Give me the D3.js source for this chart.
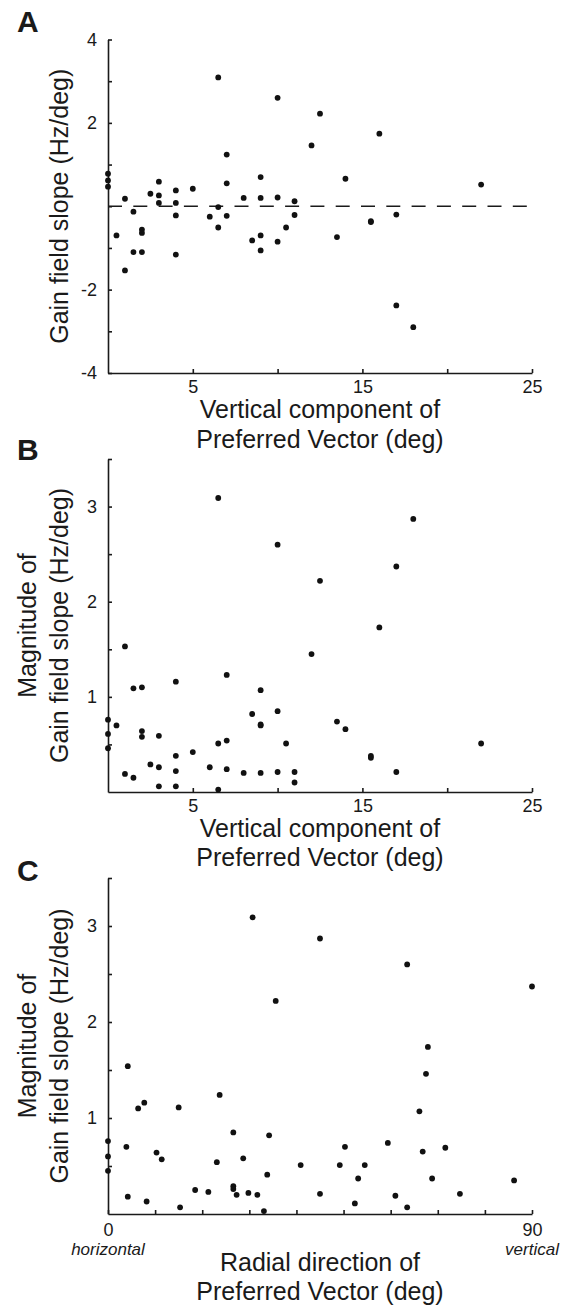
<!DOCTYPE html>
<html>
<head>
<meta charset="utf-8">
<script src="https://cdn.jsdelivr.net/npm/d3@7"></script>
<style>
  body { margin: 0; background: #fff; }
  svg text { font-family: "Liberation Sans", Arial, Helvetica, sans-serif; fill: #1a1a1a; }
  .axis path, .axis line { stroke: #1a1a1a; stroke-width: 1.6; }
  .axis text { font-size: 18px; }
  .title { font-size: 25px; }
  .plabel { font-size: 30px; font-weight: bold; }
  .note { font-size: 17px; font-style: italic; }
</style>
</head>
<body>
<svg id="fig" width="569" height="1305"></svg>
<script>
// Panel A: vertical component (deg) vs gain field slope (Hz/deg)
const aX = [6.5, 10, 12.5, 16, 12, 7, 0, 0, 0, 1, 1.5, 0.5, 2, 2, 1.5, 2, 1, 2.5, 3, 3, 3, 4, 4, 4, 4,
            5, 6, 6.5, 6.5, 7, 7, 8, 8.5, 9, 9, 9, 9, 10, 10, 10.5, 11, 11, 13.5, 14, 15.5, 15.5, 17, 17, 22, 18];
const aY = [3.09, 2.6, 2.22, 1.74, 1.46, 1.24, 0.78, 0.62, 0.47, 0.18, -0.13, -0.70, -0.56, -0.64, -1.10, -1.10,
            -1.54, 0.30, 0.59, 0.26, 0.08, 0.38, 0.08, -0.22, -1.16, 0.42, -0.25, -0.02, -0.51, 0.55, -0.23, 0.20,
            -0.82, 0.70, 0.20, -0.70, -1.06, 0.21, -0.85, -0.51, 0.12, -0.21, -0.74, 0.66, -0.36, -0.38, -0.20,
            -2.38, 0.52, -2.90];

// Panel B: vertical component (deg) vs magnitude of slope
const bX = [6.5, 10, 12.5, 18, 17, 16, 1, 12, 7, 4, 1.5, 2, 9, 10, 8.5, 0, 0.5, 9, 9, 13.5, 14, 0, 2, 2, 3,
            0, 6.5, 7, 10.5, 22, 15.5, 15.5, 5, 4, 2.5, 3, 4, 6, 7, 8, 9, 10, 11, 17, 1, 1.5, 11, 3, 4, 6.5];
const bY = [3.09, 2.6, 2.22, 2.87, 2.37, 1.73, 1.53, 1.45, 1.23, 1.16, 1.09, 1.10, 1.07, 0.85, 0.82, 0.76, 0.70,
            0.70, 0.71, 0.74, 0.66, 0.61, 0.64, 0.58, 0.59, 0.46, 0.51, 0.54, 0.51, 0.51, 0.38, 0.36, 0.42, 0.38,
            0.29, 0.26, 0.22, 0.26, 0.24, 0.20, 0.20, 0.21, 0.21, 0.21, 0.19, 0.15, 0.10, 0.06, 0.06, 0.025];

// Panel C: radial direction (deg) vs magnitude of slope
const cX = [30.7, 45.0, 63.5, 90, 35.6, 67.9, 67.5, 4.2, 23.7, 6.4, 7.7, 15, 66.1, 26.6, 34.2, 0, 3.9, 59.4,
            50.3, 71.6, 66.8, 10.3, 0, 11.4, 28.7, 23.1, 40.9, 49.2, 54.5, 0, 33.8, 53.1, 68.8, 86.2, 26.6, 26.6,
            27.3, 18.5, 21.3, 29.8, 31.7, 45.0, 61.0, 74.7, 4.2, 8.2, 52.4, 15.3, 63.5, 33.1];
const cY = [3.09, 2.87, 2.6, 2.37, 2.22, 1.74, 1.46, 1.54, 1.24, 1.10, 1.16, 1.11, 1.07, 0.85, 0.82, 0.76, 0.70,
            0.74, 0.70, 0.69, 0.65, 0.64, 0.60, 0.57, 0.58, 0.54, 0.51, 0.51, 0.51, 0.45, 0.41, 0.37, 0.37, 0.35,
            0.29, 0.26, 0.20, 0.25, 0.23, 0.22, 0.20, 0.21, 0.19, 0.21, 0.18, 0.13, 0.11, 0.07, 0.07, 0.03];

// Ticks and labels
const vertTicks = [5, 10, 15, 20, 25];
const vertLabels = [5, 15, 25];
const slopeTicks = [-4, -3, -2, -1, 0, 1, 2, 3, 4];
const slopeLabels = [4, 2, -2, -4];
const magTicks = [0.5, 1, 1.5, 2, 2.5, 3, 3.5];
const magLabels = [1, 2, 3];
const radialTicks = [0, 10, 20, 30, 40, 50, 60, 70, 80, 90];
const radialLabels = [0, 90];

const svg = d3.select('#fig');
const left = 108, right = 532;

function drawPanel(p) {
  const x = d3.scaleLinear().domain(p.xDomain).range([left, right]);
  const y = d3.scaleLinear().domain(p.yDomain).range(p.yRange);
  const g = svg.append('g');

  const xAxis = d3.axisBottom(x)
      .tickValues(p.xTicks)
      .tickSize(-4)
      .tickSizeOuter(0)
      .tickPadding(p.xPad)
      .tickFormat(d => p.xLabels.includes(d) ? d : '');
  const yAxis = d3.axisLeft(y)
      .tickValues(p.yTicks)
      .tickSize(-4)
      .tickSizeOuter(0)
      .tickPadding(11)
      .tickFormat(d => p.yLabels.includes(d) ? d : '');

  g.append('g')
      .attr('class', 'axis')
      .attr('transform', `translate(0,${p.yRange[0]})`)
      .call(xAxis)
      .call(a => a.attr('font-family', null).attr('font-size', null));
  g.append('g')
      .attr('class', 'axis')
      .attr('transform', `translate(${left},0)`)
      .call(yAxis)
      .call(a => a.attr('font-family', null).attr('font-size', null));

  // dashed zero line (panel A only)
  if (p.zeroLine) {
    g.append('line')
        .attr('x1', x(p.xDomain[0])).attr('x2', x(p.xDomain[1]))
        .attr('y1', y(0)).attr('y2', y(0))
        .attr('stroke', '#1a1a1a')
        .attr('stroke-width', 1.7)
        .attr('stroke-dasharray', '14,11.3');
  }

  g.selectAll('.dot')
      .data(d3.range(p.xs.length))
      .join('circle')
      .attr('class', 'dot')
      .attr('cx', i => x(p.xs[i]))
      .attr('cy', i => y(p.ys[i]))
      .attr('r', 2.9)
      .attr('fill', '#111');

  // panel letter
  g.append('text').attr('class', 'plabel')
      .attr('x', 17).attr('y', p.letterY).text(p.letter);

  // y title, one or two rotated lines
  const yMid = (p.yRange[0] + p.yRange[1]) / 2;
  p.yTitle.forEach((t, i, arr) => {
    const bx = arr.length === 1 ? 68 : [35.5, 68][i];
    g.append('text').attr('class', 'title')
        .attr('text-anchor', 'middle')
        .attr('transform', `translate(${bx},${yMid}) rotate(-90)`)
        .text(t);
  });

  // x title, two lines
  const xMid = (left + right) / 2;
  p.xTitle.forEach((t, i) => {
    g.append('text').attr('class', 'title')
        .attr('text-anchor', 'middle')
        .attr('x', xMid).attr('y', p.xTitleY[i])
        .text(t);
  });

  return x;
}

drawPanel({
  letter: 'A', letterY: 32,
  xs: aX, ys: aY,
  xDomain: [0, 25], yDomain: [-4, 4], yRange: [373, 39.5],
  xTicks: vertTicks, xLabels: vertLabels, xPad: 7.5,
  yTicks: slopeTicks, yLabels: slopeLabels,
  zeroLine: true,
  yTitle: ['Gain field slope (Hz/deg)'],
  xTitle: ['Vertical component of', 'Preferred Vector (deg)'], xTitleY: [418, 448]
});

drawPanel({
  letter: 'B', letterY: 460,
  xs: bX, ys: bY,
  xDomain: [0, 25], yDomain: [0, 3.5], yRange: [792, 459],
  xTicks: vertTicks, xLabels: vertLabels, xPad: 7,
  yTicks: magTicks, yLabels: magLabels,
  yTitle: ['Magnitude of', 'Gain field slope (Hz/deg)'],
  xTitle: ['Vertical component of', 'Preferred Vector (deg)'], xTitleY: [837, 866]
});

const xC = drawPanel({
  letter: 'C', letterY: 881,
  xs: cX, ys: cY,
  xDomain: [0, 90], yDomain: [0, 3.5], yRange: [1214, 878],
  xTicks: radialTicks, xLabels: radialLabels, xPad: 9,
  yTicks: magTicks, yLabels: magLabels,
  yTitle: ['Magnitude of', 'Gain field slope (Hz/deg)'],
  xTitle: ['Radial direction of', 'Preferred Vector (deg)'], xTitleY: [1271, 1300]
});

svg.append('text').attr('class', 'note').attr('text-anchor', 'middle')
    .attr('x', xC(0)).attr('y', 1255).text('horizontal');
svg.append('text').attr('class', 'note').attr('text-anchor', 'middle')
    .attr('x', xC(90)).attr('y', 1255).text('vertical');
</script>
</body>
</html>
